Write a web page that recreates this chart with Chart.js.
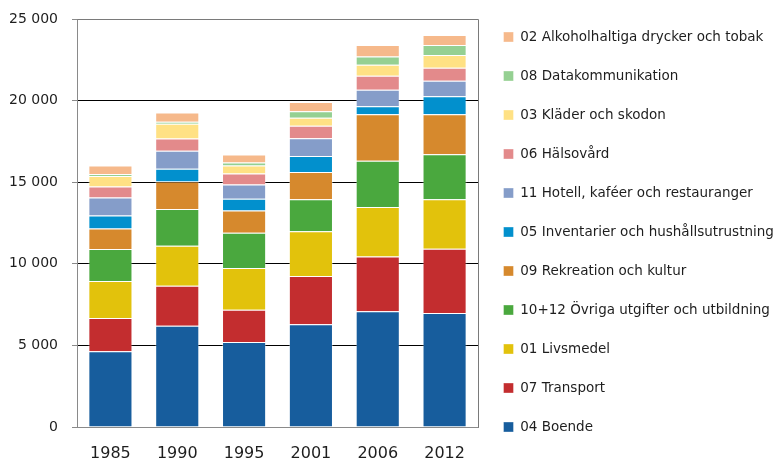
<!DOCTYPE html>
<html>
<head>
<meta charset="utf-8">
<script src="https://cdn.jsdelivr.net/npm/chart.js@4"></script>
<style>
  html, body { margin: 0; padding: 0; background: #fff; }
  #wrap { width: 779px; height: 464px; }
</style>
</head>
<body>
<div id="wrap"><canvas id="chart"></canvas></div>
<script>
const years = ['1985', '1990', '1995', '2001', '2006', '2012'];

const boende      = [4640, 6210, 5210, 6290, 7090, 6990];
const transport   = [2040, 2450, 1980, 2960, 3350, 3930];
const livsmedel   = [2260, 2450, 2550, 2750, 3040, 3040];
const ovriga      = [1960, 2250, 2160, 1960, 2830, 2750];
const rekreation  = [1260, 1690, 1360, 1670, 2860, 2450];
const inventarier = [800, 780, 720, 980, 490, 1100];
const hotell      = [1100, 1100, 880, 1080, 1000, 960];
const halsovard   = [670, 750, 670, 770, 870, 800];
const klader      = [650, 900, 490, 490, 660, 780];
const datakomm    = [120, 120, 180, 390, 510, 610];
const alkohol     = [530, 570, 490, 570, 700, 610];

const yTicks = [0, 5000, 10000, 15000, 20000, 25000];

const series = [
  { label: '04 Boende', data: boende, color: '#175d9d' },
  { label: '07 Transport', data: transport, color: '#c32d2f' },
  { label: '01 Livsmedel', data: livsmedel, color: '#e2c20c' },
  { label: '10+12 Övriga utgifter och utbildning', data: ovriga, color: '#4aa83e' },
  { label: '09 Rekreation och kultur', data: rekreation, color: '#d6892d' },
  { label: '05 Inventarier och hushållsutrustning', data: inventarier, color: '#0290cd' },
  { label: '11 Hotell, kaféer och restauranger', data: hotell, color: '#859dc9' },
  { label: '06 Hälsovård', data: halsovard, color: '#e38a8b' },
  { label: '03 Kläder och skodon', data: klader, color: '#ffe184' },
  { label: '08 Datakommunikation', data: datakomm, color: '#95d092' },
  { label: '02 Alkoholhaltiga drycker och tobak', data: alkohol, color: '#f6b98b' }
];

// grey frame round the plot area
const frame = {
  id: 'plotFrame',
  afterDraw(chart) {
    const { ctx, chartArea: a } = chart;
    ctx.save();
    ctx.strokeStyle = '#7a7a7a';
    ctx.lineWidth = 1;
    ctx.beginPath();
    ctx.moveTo(Math.round(a.left) + 0.5, Math.round(a.top) + 0.5);
    ctx.lineTo(Math.round(a.right) + 0.5, Math.round(a.top) + 0.5);
    ctx.lineTo(Math.round(a.right) + 0.5, Math.round(a.bottom) + 0.5);
    ctx.stroke();
    ctx.restore();
  }
};

new Chart(document.getElementById('chart'), {
  type: 'bar',
  data: {
    labels: years,
    datasets: series.map(s => ({
      label: s.label,
      data: s.data,
      backgroundColor: s.color,
      borderColor: 'rgba(255,255,255,0.35)',
      borderWidth: 1,
      categoryPercentage: 1,
      barPercentage: 0.66
    }))
  },
  options: {
    responsive: true,
    maintainAspectRatio: false,
    animation: false,
    layout: { padding: 0 },
    plugins: {
      tooltip: { enabled: false },
      legend: {
        position: 'right',
        reverse: true,
        maxWidth: 301,
        labels: {
          boxWidth: 10,
          boxHeight: 10,
          padding: 25.5,
          color: '#1e1e1e',
          font: { family: 'DejaVu Sans', size: 13.5 }
        }
      }
    },
    scales: {
      x: {
        stacked: true,
        grid: { display: false, drawTicks: false },
        border: { color: '#8a8a8a' },
        ticks: { color: '#1e1e1e', padding: 17, font: { family: 'DejaVu Sans', size: 16 } },
        afterFit: s => { s.height = 37; }
      },
      y: {
        stacked: true,
        min: 0,
        max: 25000,
        afterBuildTicks: s => { s.ticks = yTicks.map(v => ({ value: v })); },
        grid: {
          color: c => (c.tick.value === 0 || c.tick.value === 25000) ? '#7a7a7a' : '#000',
          tickColor: '#8a8a8a',
          tickLength: 5
        },
        border: { color: '#8a8a8a' },
        ticks: {
          color: '#1e1e1e',
          padding: 14,
          font: { family: 'DejaVu Sans', size: 14 },
          callback: v => String(v).replace(/\B(?=(\d{3})+(?!\d))/g, ' ')
        },
        afterFit: s => { s.width = 77; s.paddingTop = 19; }
      }
    }
  },
  plugins: [frame]
});
</script>
</body>
</html>
